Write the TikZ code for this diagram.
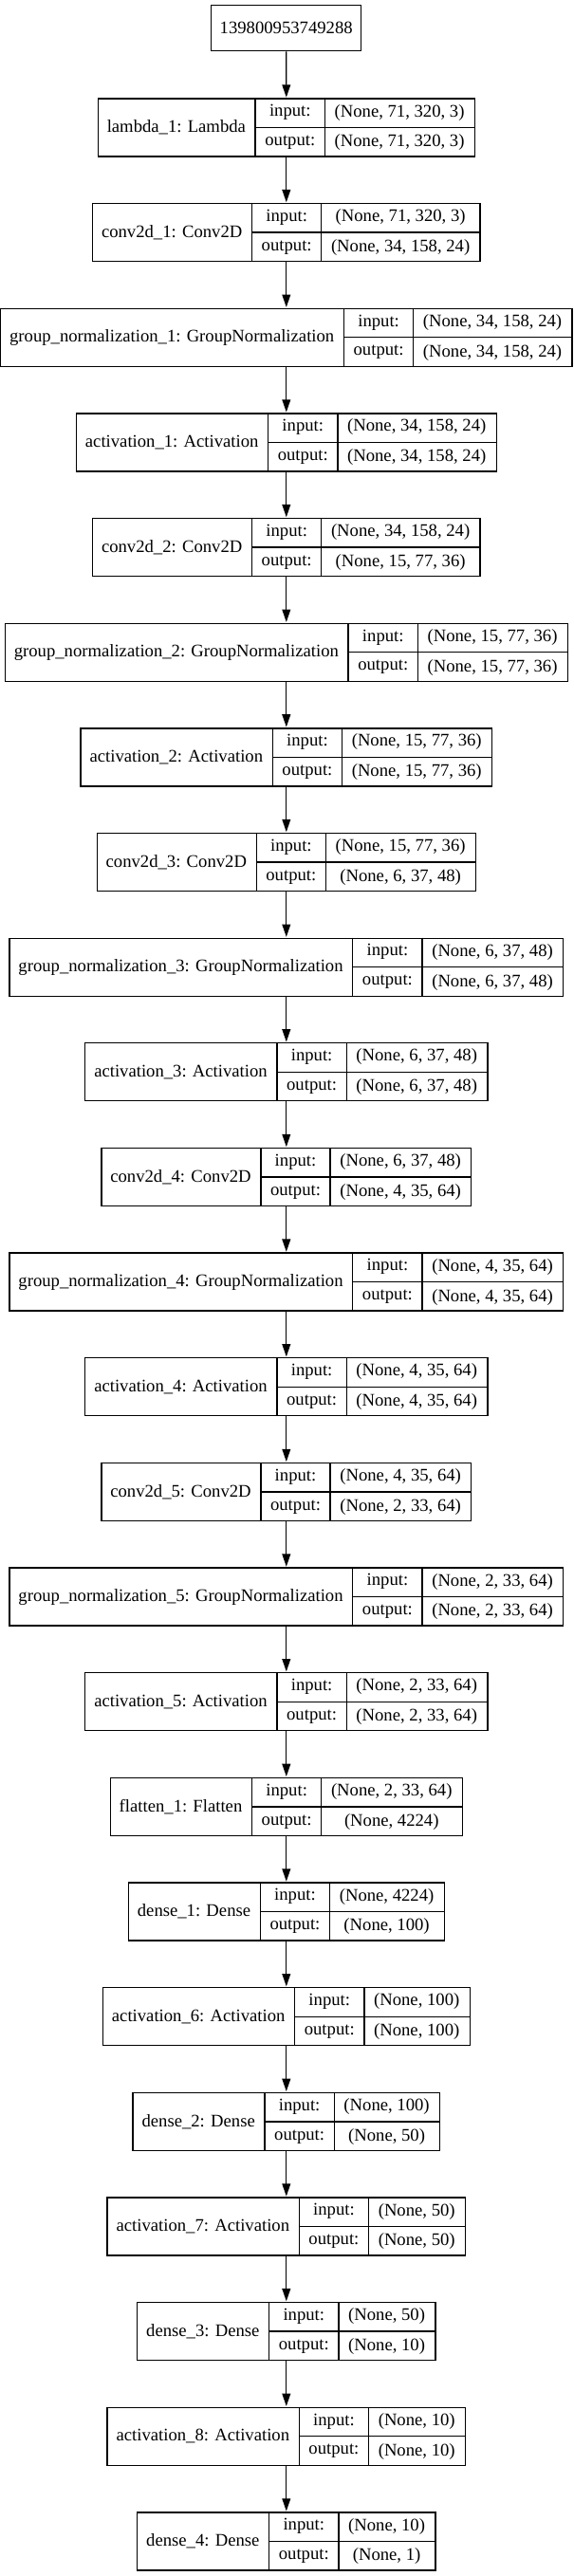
\documentclass[tikz,border=0pt]{standalone}
\usepackage{fontspec}
\setmainfont{Liberation Serif}
\usetikzlibrary{arrows.meta,calc}
\newlength\kwa \newlength\kwb \newlength\kwc \newlength\kwx
\newcommand\kf{\fontsize{14pt}{16pt}\selectfont}
\newcommand\kpad{15.3pt}
% measure a record's columns outside the picture
\newcommand\kdef[4]{%
  \settowidth\kwa{\kf #2}\addtolength\kwa{\kpad}%
  \settowidth\kwb{\kf output:}\addtolength\kwb{\kpad}%
  \settowidth\kwc{\kf #3}\settowidth\kwx{\kf #4}%
  \ifdim\kwx>\kwc \kwc=\kwx\fi \addtolength\kwc{\kpad}%
  \expandafter\xdef\csname kA#1\endcsname{\the\kwa}%
  \expandafter\xdef\csname kB#1\endcsname{\the\kwb}%
  \expandafter\xdef\csname kC#1\endcsname{\the\kwc}%
  \expandafter\gdef\csname kL#1\endcsname{#2}%
  \expandafter\gdef\csname kI#1\endcsname{#3}%
  \expandafter\gdef\csname kO#1\endcsname{#4}%
}
\AtBeginDocument{%
\kdef{1}{lambda\_1: Lambda}{(None, 71, 320, 3)}{(None, 71, 320, 3)}%
\kdef{2}{conv2d\_1: Conv2D}{(None, 71, 320, 3)}{(None, 34, 158, 24)}%
\kdef{3}{group\_normalization\_1: GroupNormalization}{(None, 34, 158, 24)}{(None, 34, 158, 24)}%
\kdef{4}{activation\_1: Activation}{(None, 34, 158, 24)}{(None, 34, 158, 24)}%
\kdef{5}{conv2d\_2: Conv2D}{(None, 34, 158, 24)}{(None, 15, 77, 36)}%
\kdef{6}{group\_normalization\_2: GroupNormalization}{(None, 15, 77, 36)}{(None, 15, 77, 36)}%
\kdef{7}{activation\_2: Activation}{(None, 15, 77, 36)}{(None, 15, 77, 36)}%
\kdef{8}{conv2d\_3: Conv2D}{(None, 15, 77, 36)}{(None, 6, 37, 48)}%
\kdef{9}{group\_normalization\_3: GroupNormalization}{(None, 6, 37, 48)}{(None, 6, 37, 48)}%
\kdef{10}{activation\_3: Activation}{(None, 6, 37, 48)}{(None, 6, 37, 48)}%
\kdef{11}{conv2d\_4: Conv2D}{(None, 6, 37, 48)}{(None, 4, 35, 64)}%
\kdef{12}{group\_normalization\_4: GroupNormalization}{(None, 4, 35, 64)}{(None, 4, 35, 64)}%
\kdef{13}{activation\_4: Activation}{(None, 4, 35, 64)}{(None, 4, 35, 64)}%
\kdef{14}{conv2d\_5: Conv2D}{(None, 4, 35, 64)}{(None, 2, 33, 64)}%
\kdef{15}{group\_normalization\_5: GroupNormalization}{(None, 2, 33, 64)}{(None, 2, 33, 64)}%
\kdef{16}{activation\_5: Activation}{(None, 2, 33, 64)}{(None, 2, 33, 64)}%
\kdef{17}{flatten\_1: Flatten}{(None, 2, 33, 64)}{(None, 4224)}%
\kdef{18}{dense\_1: Dense}{(None, 4224)}{(None, 100)}%
\kdef{19}{activation\_6: Activation}{(None, 100)}{(None, 100)}%
\kdef{20}{dense\_2: Dense}{(None, 100)}{(None, 50)}%
\kdef{21}{activation\_7: Activation}{(None, 50)}{(None, 50)}%
\kdef{22}{dense\_3: Dense}{(None, 50)}{(None, 10)}%
\kdef{23}{activation\_8: Activation}{(None, 10)}{(None, 10)}%
\kdef{24}{dense\_4: Dense}{(None, 10)}{(None, 1)}%
}
% draw record number #1 (node name L#1)
\newcommand\kdraw[1]{%
  \pgfmathsetlengthmacro\kA{\csname kA#1\endcsname}%
  \pgfmathsetlengthmacro\kB{\csname kB#1\endcsname}%
  \pgfmathsetlengthmacro\kC{\csname kC#1\endcsname}%
  \pgfmathsetlengthmacro\kW{\kA+\kB+\kC}%
  \pgfmathsetmacro\ktop{-(103.3+(#1-1)*110.65)*0.75}%
  \node[rec, minimum width=\kW, anchor=north] (L#1) at (226.35pt,\ktop pt) {};
  \draw[recline] ($(L#1.north west)+(\kA,0)$) -- ($(L#1.south west)+(\kA,0)$);
  \draw[recline] ($(L#1.north west)+(\kA+\kB,0)$) -- ($(L#1.south west)+(\kA+\kB,0)$);
  \draw[recline] ($(L#1.west)+(\kA,0)$) -- (L#1.east);
  \node[txt] (L#1l) at ($(L#1.west)+(0.5*\kA,0)$) {\csname kL#1\endcsname};
  \node[txt] (L#1i) at ($(L#1.north west)+(\kA+0.5*\kB,-11.44pt)$) {input:};
  \node[txt] (L#1o) at ($(L#1.south west)+(\kA+0.5*\kB,11.44pt)$) {output:};
  \node[txt] (L#1p) at ($(L#1.north west)+(\kA+\kB+0.5*\kC,-11.44pt)$) {\csname kI#1\endcsname};
  \node[txt] (L#1q) at ($(L#1.south west)+(\kA+\kB+0.5*\kC,11.44pt)$) {\csname kO#1\endcsname};
}
\begin{document}
\begin{tikzpicture}[
  rec/.style={draw=black, line width=1pt, inner sep=0pt, minimum height=45.75pt},
  recline/.style={draw=black, line width=1pt},
  txt/.style={font=\kf, inner sep=0pt, text=black},
  topbox/.style={draw=black, line width=1pt, inner sep=0pt, minimum width=118.5pt, minimum height=36pt, font=\kf},
  arr/.style={draw=black, line width=1pt, -{Triangle[length=10pt,width=6.6pt]}, shorten >=0.5pt}
]
\useasboundingbox (0,0) rectangle (453pt,-2037pt);
\node[topbox] (n0) at (226.3pt,-22.28pt) {139800953749288};
\foreach \k in {1,...,24} {\kdraw{\k}}
\draw[arr] (n0.south) -- (L1.north);
\foreach \a [evaluate=\a as \b using int(\a+1)] in {1,...,23}
  \draw[arr] (L\a.south) -- (L\b.north);
\end{tikzpicture}
\end{document}
